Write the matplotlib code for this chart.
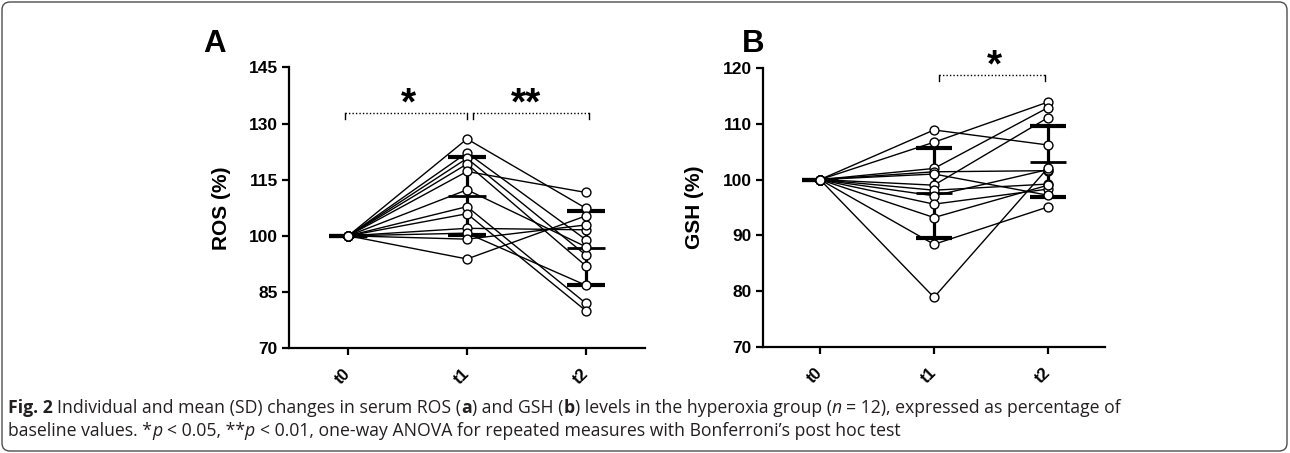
import matplotlib
matplotlib.use('Agg')
import numpy as np
import matplotlib.pyplot as plt
from matplotlib.patches import FancyBboxPatch
from matplotlib.transforms import IdentityTransform, offset_copy

# ---- data (% of baseline, t0 = 100 for everyone) ----
times = ['t0', 't1', 't2']

ros_t1 = [125.9, 122.2, 120.7, 119.2, 117.2, 112.3, 107.8, 105.9, 102.0, 100.7, 99.1, 93.8]
ros_t2 = [107.4, 99.0, 94.9, 92.0, 111.6, 97.1, 82.0, 80.0, 101.6, 86.8, 102.9, 105.3]

gsh_t1 = [108.9, 106.7, 102.0, 101.4, 99.0, 98.1, 97.1, 95.6, 93.2, 88.4, 78.9, 101.0]
gsh_t2 = [106.2, 113.9, 112.9, 101.6, 111.1, 99.2, 101.8, 98.3, 99.0, 95.1, 102.1, 97.2]

W, H = 1290, 453
fig = plt.figure(figsize=(W / 100, H / 100), dpi=100)
plt.rcParams['font.family'] = ['Liberation Sans', 'DejaVu Sans']


def draw_panel(ax, t1, t2, ylim, yticks, ylabel, label_x):
    n = len(t1)
    data = np.vstack([np.full(n, 100.0), t1, t2])
    x = np.arange(3)
    for i in range(n):
        ax.plot(x, data[:, i], color='black', lw=1.0, zorder=2)

    means = data.mean(axis=1)
    sds = data.std(axis=1, ddof=1)
    hw = 0.16
    ax.vlines(x, means - sds, means + sds, color='black', lw=2.3, zorder=3)
    ax.hlines(means, x - hw, x + hw, color='black', lw=2.0, zorder=3)
    ax.hlines(means + sds, x - hw, x + hw, color='black', lw=3.0, zorder=3)
    ax.hlines(means - sds, x - hw, x + hw, color='black', lw=3.0, zorder=3)

    ax.plot(np.repeat(x, n), data.ravel(), 'o', ls='none', mfc='white',
            mec='black', ms=6.4, mew=1.0, zorder=4)

    ax.set_xlim(-0.5, 2.5)
    ax.set_ylim(*ylim)
    ax.set_yticks(yticks)
    ax.set_xticks(x)
    ax.set_xticklabels(times, rotation=45, ha='right', va='center',
                       rotation_mode='anchor', fontweight='bold', fontsize=12)
    for lab in ax.get_yticklabels():
        lab.set_fontweight('bold')
        lab.set_fontsize(12.5)
    for s in ['top', 'right']:
        ax.spines[s].set_visible(False)
    for s in ['left', 'bottom']:
        ax.spines[s].set_linewidth(1.6)
    ax.tick_params(axis='both', width=1.6, length=5, pad=3)
    ax.tick_params(axis='x', pad=12)
    ax.set_ylabel(ylabel, fontsize=15, fontweight='bold', va='center')
    ax.yaxis.set_label_coords(label_x, 0.5)


def bracket(ax, x0, x1, y, tick):
    ax.plot([x0, x1], [y, y], color='black', lw=1.0, ls=(0, (1, 1.5)), clip_on=False)
    ax.plot([x0, x0], [y, y - tick], color='black', lw=1.0, clip_on=False)
    ax.plot([x1, x1], [y, y - tick], color='black', lw=1.0, clip_on=False)


def stars(ax, x, y, s, fs=28):
    # y is the visual centre of the asterisk glyph
    tr = offset_copy(ax.transData, fig=fig, y=-0.46 * fs, units='points')
    ax.text(x, y, s, transform=tr, ha='center', va='baseline',
            fontsize=fs, fontweight='bold', clip_on=False)


axA = fig.add_axes([289 / W, 105 / H, 356 / W, 280.5 / H])
draw_panel(axA, ros_t1, ros_t2, (70, 145), [70, 85, 100, 115, 130, 145], 'ROS (%)', -0.19)
bracket(axA, -0.03, 1.0, 132.8, 1.6)
bracket(axA, 1.05, 2.03, 132.8, 1.6)
stars(axA, 0.51, 137.2, '*')
stars(axA, 1.50, 137.2, '**')

axB = fig.add_axes([763 / W, 106 / H, 342 / W, 279 / H])
draw_panel(axB, gsh_t1, gsh_t2, (70, 120), [70, 80, 90, 100, 110, 120], 'GSH (%)', -0.20)
bracket(axB, 1.04, 1.97, 118.7, 1.1)
stars(axB, 1.53, 121.7, '*')

fig.text(203 / W, 1 - 52 / H, 'A', fontsize=22.5, fontweight='bold', va='baseline')
fig.text(742 / W, 1 - 52 / H, 'B', fontsize=22.5, fontweight='bold', va='baseline')

# frame round the whole figure
fig.add_artist(FancyBboxPatch((2, 2), 1285, 449, boxstyle='round,pad=0,rounding_size=8',
                              transform=IdentityTransform(), fill=False,
                              ec='#4d4d4d', lw=1.0))

# caption, written in runs so that bold / italic parts sit inline
cap_font = ['Open Sans', 'DejaVu Sans']
cap_size = 12.7
renderer = fig.canvas.get_renderer()


def text_w(s, weight='normal', style='normal'):
    t = fig.text(0, 0, s, fontsize=cap_size, family=cap_font, fontweight=weight,
                 fontstyle=style, transform=IdentityTransform())
    w = t.get_window_extent(renderer).width
    t.remove()
    return w


space_w = text_w('x x') - text_w('xx')


def draw_runs(x, y, runs):
    for s, weight, style in runs:
        lead = len(s) - len(s.lstrip(' '))
        trail = len(s) - len(s.rstrip(' '))
        x += lead * space_w
        core = s.strip(' ')
        t = fig.text(x, y, core, fontsize=cap_size, family=cap_font, fontweight=weight,
                     fontstyle=style, color='#231f20', va='baseline',
                     transform=IdentityTransform())
        x = t.get_window_extent(renderer).x1 + trail * space_w


line1 = [('Fig. 2', 'bold', 'normal'),
         (' Individual and mean (SD) changes in serum ROS (', 'normal', 'normal'),
         ('a', 'bold', 'normal'),
         (') and GSH (', 'normal', 'normal'),
         ('b', 'bold', 'normal'),
         (') levels in the hyperoxia group (', 'normal', 'normal'),
         ('n', 'normal', 'italic'),
         (' = 12), expressed as percentage of', 'normal', 'normal')]
line2 = [('baseline values. *', 'normal', 'normal'),
         ('p', 'normal', 'italic'),
         (' < 0.05, **', 'normal', 'normal'),
         ('p', 'normal', 'italic'),
         (' < 0.01, one-way ANOVA for repeated measures with Bonferroni\u2019s post hoc test',
          'normal', 'normal')]
draw_runs(8, H - 413, line1)
draw_runs(8, H - 436, line2)

fig.savefig('out.png', dpi=100)
